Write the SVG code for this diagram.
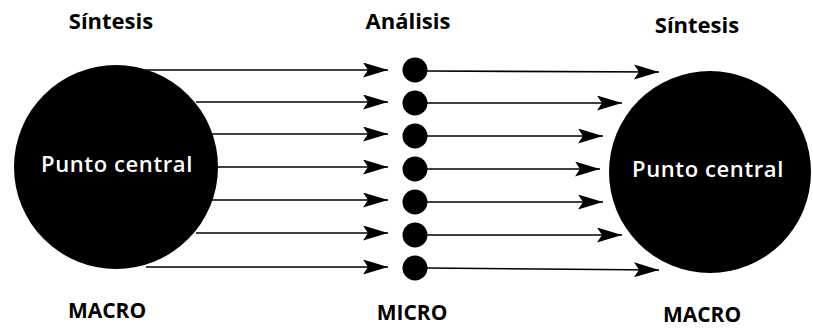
<svg xmlns="http://www.w3.org/2000/svg" width="813" height="329" viewBox="0 0 813 329">
<style>
.t{font-family:"Open Sans","Liberation Sans",sans-serif;font-weight:bold;fill:#000;text-anchor:middle}
.big{fill:#000}
.lbl{font-family:"Open Sans","Liberation Sans",sans-serif;font-size:22px;font-weight:600;fill:#fff;text-anchor:middle;letter-spacing:0.6px}
.c{stroke:#000;stroke-width:1.6;fill:none;marker-end:url(#ah)}
.dot{fill:#000}
</style>
<defs>
<marker id="ah" markerWidth="26" markerHeight="16" refX="25" refY="7.5" orient="auto" markerUnits="userSpaceOnUse">
<path d="M0,0 L25,7.5 L0,15 L5,7.5 Z" fill="#000"/>
</marker>
</defs>
<text class="t" x="111" y="29" font-size="22">Síntesis</text>
<text class="t" x="408" y="29" font-size="22">Análisis</text>
<text class="t" x="697" y="33" font-size="22">Síntesis</text>
<text class="t" x="107" y="318" font-size="21">MACRO</text>
<text class="t" x="412" y="320" font-size="21">MICRO</text>
<text class="t" x="702" y="322" font-size="21">MACRO</text>
<g id="macro-left">
<circle class="big" cx="116" cy="167" r="102"/>
<text class="lbl" x="117" y="172">Punto central</text>
</g>
<g id="macro-right">
<circle class="big" cx="710" cy="172" r="101"/>
<text class="lbl" x="708" y="177">Punto central</text>
</g>
<g id="micro">
<circle class="dot" cx="415" cy="70" r="12.5"/>
<circle class="dot" cx="415" cy="103" r="12.5"/>
<circle class="dot" cx="415" cy="136" r="12.5"/>
<circle class="dot" cx="415" cy="169" r="12.5"/>
<circle class="dot" cx="415" cy="202" r="12.5"/>
<circle class="dot" cx="415" cy="235" r="12.5"/>
<circle class="dot" cx="415" cy="268" r="12.5"/>
</g>
<g id="connectors">
<line class="c" x1="145" y1="70" x2="388" y2="70"/>
<line class="c" x1="196" y1="102" x2="388" y2="102"/>
<line class="c" x1="210" y1="134" x2="388" y2="134"/>
<line class="c" x1="217" y1="167" x2="388" y2="167"/>
<line class="c" x1="212" y1="200" x2="388" y2="200"/>
<line class="c" x1="196" y1="233" x2="388" y2="233"/>
<line class="c" x1="146" y1="267" x2="388" y2="267"/>
<line class="c" x1="427" y1="71" x2="659" y2="72"/>
<line class="c" x1="427" y1="103" x2="622" y2="103"/>
<line class="c" x1="427" y1="136" x2="603" y2="136"/>
<line class="c" x1="427" y1="169" x2="600" y2="169"/>
<line class="c" x1="427" y1="202" x2="603" y2="202"/>
<line class="c" x1="427" y1="235" x2="622" y2="235"/>
<line class="c" x1="427" y1="268" x2="659" y2="270"/>
</g>
</svg>
